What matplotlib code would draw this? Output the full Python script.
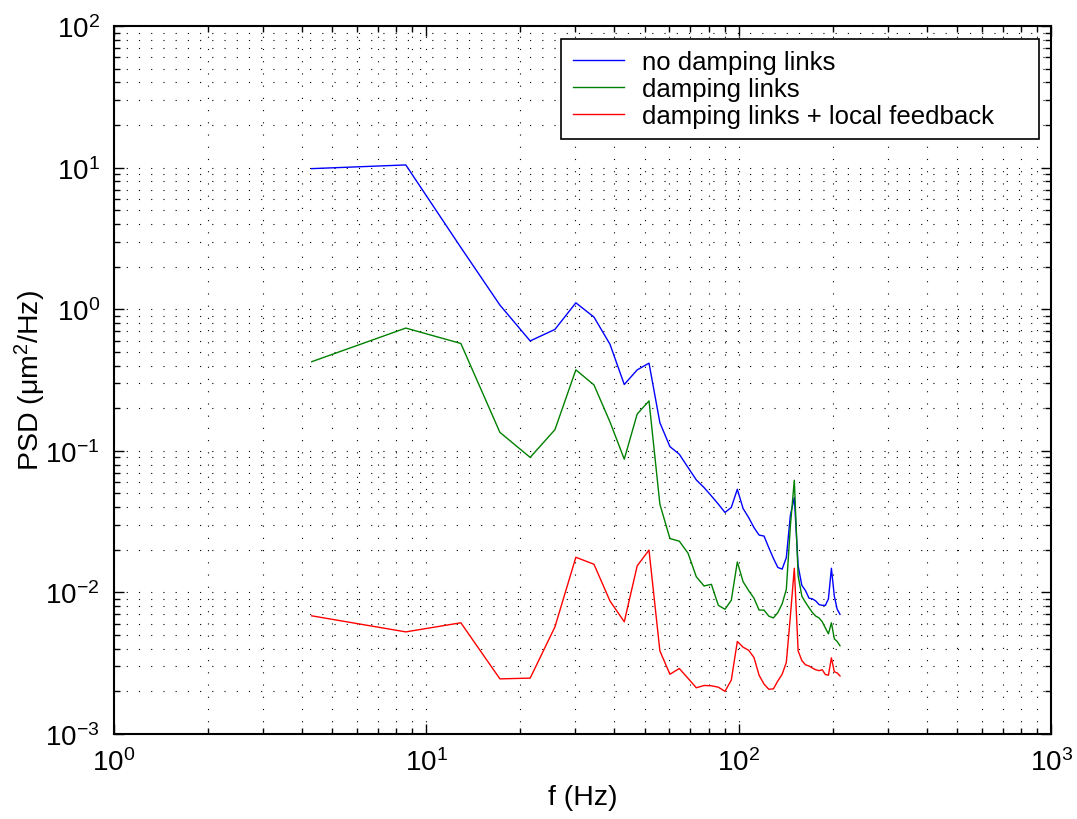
import numpy as np
import matplotlib
matplotlib.use("Agg")
import matplotlib.pyplot as plt
from matplotlib.ticker import LogLocator, NullFormatter

plt.rcParams['font.family'] = ['Liberation Sans', 'DejaVu Sans']
plt.rcParams['mathtext.fontset'] = 'custom'
plt.rcParams['mathtext.rm'] = 'Liberation Sans'
plt.rcParams['mathtext.it'] = 'Liberation Sans:italic'
plt.rcParams['axes.unicode_minus'] = False

# frequency bins (Hz), 4.3 Hz spacing
freq = [4.3 * k for k in range(1, 50)]

no_damping = [9.84, 10.45, 2.73, 1.07, 0.597, 0.72, 1.11, 0.88, 0.566, 0.294,
              0.373, 0.416, 0.158, 0.107, 0.0946, 0.0762, 0.0623, 0.055, 0.048, 0.042,
              0.0367, 0.0398, 0.0535, 0.0391, 0.0338, 0.0287, 0.0254, 0.025, 0.0207, 0.0174,
              0.015, 0.0146, 0.0176, 0.035, 0.0468, 0.0154, 0.0112, 0.0103, 0.0091, 0.0090,
              0.0087, 0.0082, 0.0081, 0.0081, 0.0090, 0.0148, 0.0094, 0.0076, 0.0070]

damping = [0.426, 0.736, 0.573, 0.135, 0.0898, 0.141, 0.373, 0.292, 0.16, 0.0873,
           0.182, 0.225, 0.042, 0.024, 0.023, 0.0189, 0.0129, 0.0111, 0.0114, 0.0081,
           0.0076, 0.0088, 0.0164, 0.0119, 0.0103, 0.0091, 0.0075, 0.0075, 0.0068, 0.0066,
           0.0072, 0.0083, 0.0105, 0.0295, 0.062, 0.0131, 0.0094, 0.0085, 0.0078, 0.0072,
           0.0068, 0.0066, 0.0062, 0.0056, 0.0051, 0.0061, 0.0047, 0.0045, 0.0042]

damping_fb = [0.00683, 0.00526, 0.0061, 0.00245, 0.00248, 0.0057, 0.0177, 0.0158, 0.0087, 0.0062,
              0.0154, 0.0199, 0.00386, 0.00264, 0.0029, 0.00247, 0.00212, 0.0022, 0.00219, 0.00214,
              0.0020, 0.0024, 0.0045, 0.0041, 0.0039, 0.00347, 0.0026, 0.00225, 0.00207, 0.00208,
              0.00237, 0.00264, 0.0032, 0.0068, 0.0148, 0.00386, 0.0033, 0.00308, 0.00302, 0.00292,
              0.00284, 0.0028, 0.00284, 0.00263, 0.0026, 0.00345, 0.00275, 0.0027, 0.00257]

fig = plt.figure(figsize=(10.77, 8.2), dpi=100)
ax = fig.add_axes([0.1056, 0.1037, 0.8706, 0.8633])

ax.loglog(freq, no_damping, color='blue', lw=1.0, label='no damping links')
ax.loglog(freq, damping, color='green', lw=1.0, label='damping links')
ax.loglog(freq, damping_fb, color='red', lw=1.0, label='damping links + local feedback')

ax.set_xlim(1, 1000)
ax.set_ylim(1e-3, 1e2)
ax.xaxis.set_major_locator(LogLocator(base=10, numticks=10))
ax.yaxis.set_major_locator(LogLocator(base=10, numticks=10))
ax.xaxis.set_minor_locator(LogLocator(base=10, subs=np.arange(2, 10), numticks=20))
ax.yaxis.set_minor_locator(LogLocator(base=10, subs=np.arange(2, 10), numticks=20))
ax.xaxis.set_minor_formatter(NullFormatter())
ax.yaxis.set_minor_formatter(NullFormatter())

ax.grid(True, which='both', color='black', linestyle=(0, (1, 10)), linewidth=0.8)
ax.tick_params(which='both', direction='in', top=True, right=True, labelsize=20, width=1.0)
ax.tick_params(which='major', length=7, pad=10)
ax.tick_params(which='minor', length=4)
for s in ax.spines.values():
    s.set_linewidth(1.5)

ax.set_xlabel('f (Hz)', fontsize=20.5, labelpad=6)
ax.set_ylabel('PSD (μm$^{2}$/Hz)', fontsize=20.5, labelpad=-2)

leg = ax.legend(loc='upper left', bbox_to_anchor=(0.477, 0.982, 0.51, 0.0), mode='expand',
                fontsize=18.5, handlelength=2.0, handletextpad=0.7,
                fancybox=False, framealpha=1, edgecolor='black', borderpad=0.45,
                borderaxespad=0.0, labelspacing=0.1)
leg.get_frame().set_linewidth(1.2)

fig.savefig('out.png', dpi=100)
